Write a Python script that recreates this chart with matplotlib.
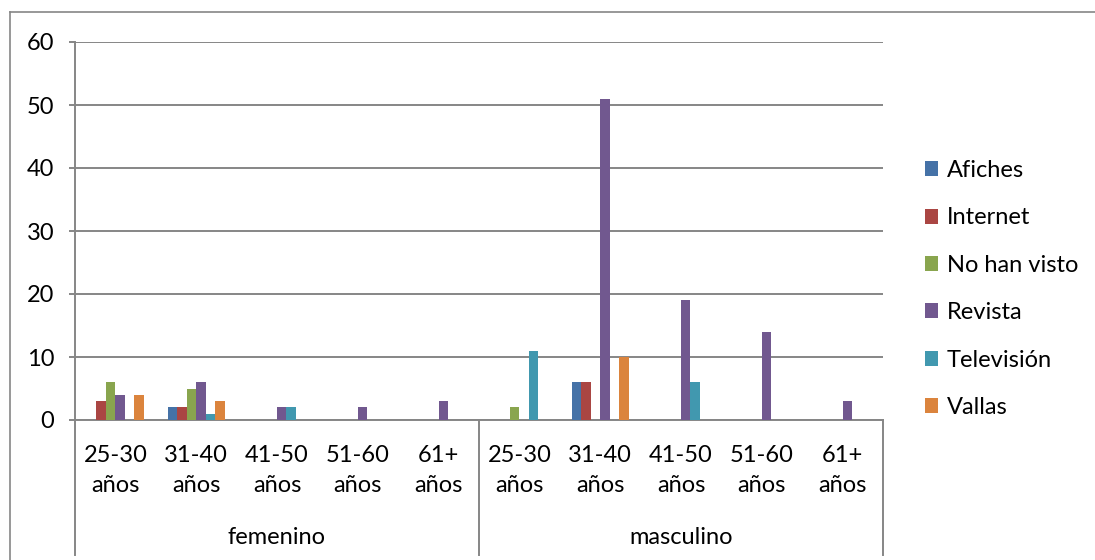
import numpy as np
import matplotlib
matplotlib.use("Agg")
import matplotlib.pyplot as plt
from matplotlib.lines import Line2D

plt.rcParams['font.family'] = ['Lato', 'DejaVu Sans']

# data
groups = ["femenino", "masculino"]
ages = ["25-30\naños", "31-40\naños", "41-50\naños", "51-60\naños", "61+\naños"]
series = ["Afiches", "Internet", "No han visto", "Revista", "Televisión", "Vallas"]
afiches    = [0, 2, 0, 0, 0,   0, 6, 0, 0, 0]
internet   = [3, 2, 0, 0, 0,   0, 6, 0, 0, 0]
no_visto   = [6, 5, 0, 0, 0,   2, 0, 0, 0, 0]
revista    = [4, 6, 2, 2, 3,   0, 51, 19, 14, 3]
television = [0, 1, 2, 0, 0,   11, 0, 6, 0, 0]
vallas     = [4, 3, 0, 0, 0,   0, 10, 0, 0, 0]
values = [afiches, internet, no_visto, revista, television, vallas]
colors = ["#4572A7", "#AA4643", "#89A54E", "#71588F", "#4198AF", "#DB843D"]

W, H = 1095, 560
fig = plt.figure(figsize=(W / 100, H / 100), dpi=100)
fig.patch.set_facecolor("white")

# plot area in pixels
x0, x1, ytop, ybot = 75, 883, 42, 420
ax = fig.add_axes([x0 / W, (H - ybot) / H, (x1 - x0) / W, (ybot - ytop) / H])

grid_c = "#868686"
fs = 17
n = len(ages) * len(groups)
x = np.arange(n)
bw = 0.117
for k, (name, vals, c) in enumerate(zip(series, values, colors)):
    ax.bar(x + (k - 2.5) * bw, vals, width=bw, color=c, linewidth=0, label=name, zorder=3)

ax.set_xlim(-0.5, n - 0.5)
ax.set_ylim(0, 60)
ax.set_yticks(range(0, 61, 10))
ax.yaxis.grid(True, color=grid_c, linewidth=1.4, zorder=0)
ax.set_axisbelow(True)
for s in ["top", "right"]:
    ax.spines[s].set_visible(False)
for s in ["left", "bottom"]:
    ax.spines[s].set_color(grid_c)
    ax.spines[s].set_linewidth(1.4)
ax.tick_params(axis="y", length=4, width=1.4, color=grid_c, pad=11, labelsize=fs)
ax.set_xticks(x)
ax.set_xticklabels(ages * len(groups), fontsize=fs, linespacing=1.55)
ax.tick_params(axis="x", length=0, pad=18)

# group separators and group labels below the category axis
sep_depth = (555 - ybot) / (ybot - ytop)
for xs in [-0.5, 4.5, 9.5]:
    ax.add_line(Line2D([xs, xs], [0, -sep_depth], color=grid_c, linewidth=1.4,
                       transform=ax.get_xaxis_transform(), clip_on=False))
lab_y = -(537 - ybot) / (ybot - ytop)
for g, name in enumerate(groups):
    ax.text(g * 5 + 2, lab_y, name, ha="center", va="center", fontsize=fs,
            transform=ax.get_xaxis_transform())

# outer frame lines
fig.add_artist(Line2D([10 / W, 10 / W], [0, 1 - 12 / H], color=grid_c, linewidth=1.2))
fig.add_artist(Line2D([10 / W, 1], [1 - 12 / H, 1 - 12 / H], color=grid_c, linewidth=1.2))

fig.legend(loc="center left", bbox_to_anchor=(916 / W, 1 - 289 / H), frameon=False,
           fontsize=fs, handlelength=0.55, handleheight=0.6, handletextpad=0.35,
           labelspacing=1.12, borderaxespad=0)

fig.savefig("out.png", dpi=100, facecolor="white")
